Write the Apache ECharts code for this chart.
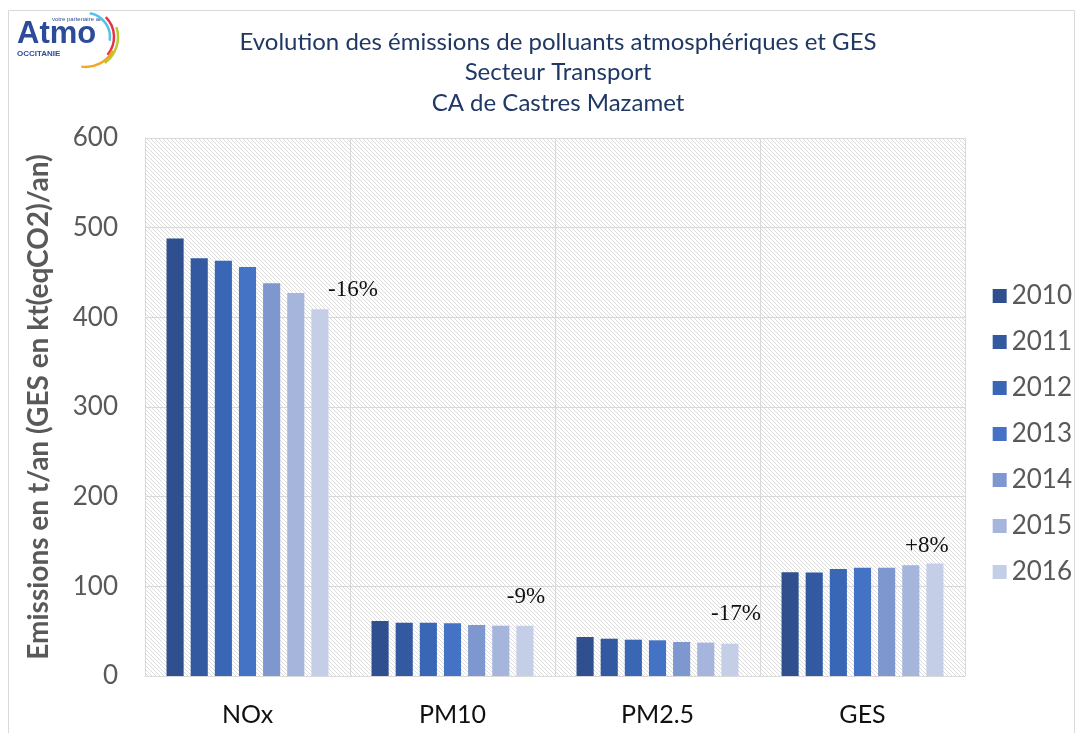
<!DOCTYPE html>
<html><head><meta charset="utf-8">
<script src="https://cdn.jsdelivr.net/npm/echarts@6/dist/echarts.min.js"></script>
<style>html,body{margin:0;padding:0;background:#fff}#c{width:1083px;height:733px}</style>
</head><body><div id="c"></div>
<script>
const categories = ['NOx', 'PM10', 'PM2.5', 'GES'];
const years = ['2010', '2011', '2012', '2013', '2014', '2015', '2016'];
const v2010 = [488, 61.3, 43.5, 115.6];
const v2011 = [466, 59.5, 41.6, 115.5];
const v2012 = [463, 59.5, 40.5, 119.3];
const v2013 = [456, 58.7, 39.8, 120.8];
const v2014 = [438, 56.9, 37.9, 120.8];
const v2015 = [427, 56.1, 37.2, 123.6];
const v2016 = [409, 56.0, 36.0, 125.5];
const changeLabels = ['-16%', '-9%', '-17%', '+8%'];
const yTicks = [0, 100, 200, 300, 400, 500, 600];

const seriesValues = [v2010, v2011, v2012, v2013, v2014, v2015, v2016];
const colors = ['#2F4F8F', '#3359A1', '#3966B5', '#4472C4', '#7F97CF', '#A6B5DB', '#C4CEE7'];
const labelOffsets = [[33, -3], [1, -12], [6, -13], [-8, -1]];

// hatch pattern
const pc = document.createElement('canvas');
pc.width = 4; pc.height = 4;
const pctx = pc.getContext('2d');
pctx.fillStyle = '#ffffff'; pctx.fillRect(0, 0, 4, 4);
pctx.strokeStyle = '#dcdcdc'; pctx.lineWidth = 1;
pctx.beginPath();
pctx.moveTo(0, 0); pctx.lineTo(4, 4);
pctx.moveTo(-2, 2); pctx.lineTo(2, 6);
pctx.moveTo(2, -2); pctx.lineTo(6, 2);
pctx.stroke();

const chart = echarts.init(document.getElementById('c'));
const series = years.map((y, si) => ({
  name: y,
  type: 'bar',
  barGap: '41%',
  barCategoryGap: '21%',
  itemStyle: { color: colors[si] },
  data: seriesValues[si].map((v, i) => {
    if (si !== years.length - 1) return v;
    return {
      value: v,
      label: {
        show: true, position: 'top', offset: labelOffsets[i],
        formatter: changeLabels[i],
        fontFamily: 'Liberation Serif', fontSize: 23, color: '#111'
      }
    };
  })
}));

const option = {
  animation: false,
  backgroundColor: '#fff',
  title: {
    text: 'Evolution des émissions de polluants atmosphériques et GES\nSecteur Transport\nCA de Castres Mazamet',
    left: 553, textAlign: 'center', top: 22,
    textStyle: { fontFamily: 'Lato', fontWeight: 'normal', fontSize: 24, color: '#1F3864', lineHeight: 30.5 }
  },
  legend: {
    orient: 'vertical', right: 6, top: 278,
    itemWidth: 14, itemHeight: 14, itemGap: 20,
    icon: 'rect',
    textStyle: { fontFamily: 'Lato', fontSize: 26, color: '#595959', lineHeight: 26 },
    data: years
  },
  grid: {
    left: 145, right: 118, top: 138, bottom: 57,
    show: true, borderWidth: 0,
    backgroundColor: { image: pc, repeat: 'repeat' }
  },
  xAxis: {
    type: 'category', data: categories,
    axisLine: { show: true, lineStyle: { color: '#d9d9d9', width: 1 } },
    axisTick: { show: false },
    splitLine: { show: true, lineStyle: { color: '#d9d9d9', width: 1 } },
    axisLabel: { fontFamily: 'Lato', fontSize: 25, color: '#111', margin: 26 }
  },
  yAxis: {
    type: 'value', min: yTicks[0], max: yTicks[yTicks.length - 1], interval: 100,
    name: 'Emissions en t/an (GES en kt(eqCO2)/an)',
    nameLocation: 'middle', nameGap: 92,
    nameTextStyle: { fontFamily: 'Lato', fontWeight: 'bold', fontSize: 28, color: '#595959' },
    axisLine: { show: true, lineStyle: { color: '#d9d9d9' } },
    axisTick: { show: false },
    splitLine: { show: true, lineStyle: { color: '#d9d9d9', width: 1 } },
    axisLabel: { fontFamily: 'Lato', fontSize: 26, color: '#595959', margin: 27 }
  },
  series: series,
  graphic: [
    { type: 'rect', shape: { x: 8.5, y: 10.5, width: 1066, height: 730 }, style: { fill: 'none', stroke: '#d9d9d9', lineWidth: 1 }, silent: true },
    { type: 'text', left: 17, top: 19, style: { text: 'Atmo', font: 'bold 31px "Liberation Sans"', fill: '#2D4B9B' } },
    { type: 'text', left: 17, top: 50, style: { text: 'OCCITANIE', font: 'bold 8px "Liberation Sans"', fill: '#2D4B9B' } },
    { type: 'text', left: 52, top: 16, style: { text: 'votre partenaire air', font: '6px "Liberation Sans"', fill: '#2D4B9B' } },
    { type: 'arc', shape: { cx: 86, cy: 37, r: 24, startAngle: -Math.PI * 0.45, endAngle: Math.PI * 0.05 }, style: { stroke: '#4FC3E8', lineWidth: 2.5, fill: 'none' } },
    { type: 'arc', shape: { cx: 86, cy: 37, r: 28, startAngle: -Math.PI * 0.25, endAngle: Math.PI * 0.22 }, style: { stroke: '#E8304A', lineWidth: 2.5, fill: 'none' } },
    { type: 'arc', shape: { cx: 86, cy: 37, r: 32, startAngle: -Math.PI * 0.1, endAngle: Math.PI * 0.3 }, style: { stroke: '#B5CC2E', lineWidth: 2.5, fill: 'none' } },
    { type: 'arc', shape: { cx: 86, cy: 37, r: 30, startAngle: Math.PI * 0.15, endAngle: Math.PI * 0.55 }, style: { stroke: '#F5A623', lineWidth: 2.5, fill: 'none' } }
  ]
};
chart.setOption(option);
</script>
</body></html>
